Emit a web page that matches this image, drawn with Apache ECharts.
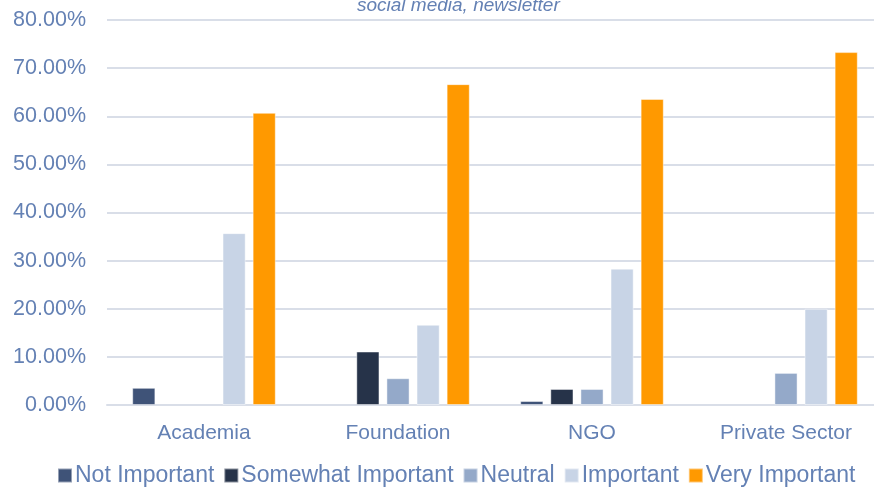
<!doctype html>
<html>
<head>
<meta charset="utf-8">
<title>Importance by sector</title>
<script src="https://cdn.jsdelivr.net/npm/echarts@6/dist/echarts.min.js"></script>
<style>
  html, body { margin: 0; padding: 0; background: #fff; overflow: hidden; }
  /* plot area runs past the right edge of the window in the original */
  #main { width: 883px; height: 487px; }
</style>
</head>
<body>
<div id="main"></div>
<script>
var chart = echarts.init(document.getElementById('main'));

var sectors = ['Academia', 'Foundation', 'NGO', 'Private Sector'];
var notImportant = [3.57, 0, 0.83, 0];
var somewhatImportant = [0, 11.11, 3.33, 0];
var neutral = [0, 5.56, 3.33, 6.67];
var important = [35.71, 16.67, 28.33, 20.0];
var veryImportant = [60.71, 66.67, 63.6, 73.33];

var textColor = '#6481B4';
var font = 'Liberation Sans, Arial, sans-serif';

function bar(name, data, color) {
    return {
        name: name,
        type: 'bar',
        // zero values draw nothing
        data: data.map(function (v) { return v === 0 ? '-' : v; }),
        barGap: '30%',
        barCategoryGap: '26%',
        itemStyle: {
            color: color,
            borderColor: 'rgba(255,255,255,0.45)',
            borderWidth: 1
        }
    };
}

chart.setOption({
    animation: false,
    title: {
        text: 'social media, newsletter',
        left: 352,
        top: -9,
        textStyle: {
            color: textColor,
            fontStyle: 'italic',
            fontWeight: 'normal',
            fontSize: 19,
            fontFamily: font
        }
    },
    legend: {
        bottom: -5,
        left: 52,
        itemWidth: 14,
        itemHeight: 14,
        itemGap: 9,
        icon: 'rect',
        textStyle: { color: textColor, fontSize: 23, fontFamily: font, padding: [0, 0, 0, -2] },
        data: ['Not Important', 'Somewhat Important', 'Neutral', 'Important', 'Very Important']
    },
    grid: { left: 107, right: 0, top: 20, bottom: 82, containLabel: false },
    xAxis: {
        type: 'category',
        data: sectors,
        axisLine: { lineStyle: { color: '#D9DEE8', width: 2 } },
        axisTick: { show: false },
        axisLabel: { color: textColor, fontSize: 21, fontFamily: font, margin: 18 }
    },
    yAxis: {
        type: 'value',
        min: 0,
        max: 80,
        interval: 10,
        axisLine: { show: false },
        axisTick: { show: false },
        splitLine: { lineStyle: { color: '#D9DEE8', width: 2 } },
        axisLabel: {
            color: textColor, fontSize: 21.5, fontFamily: font, margin: 21,
            formatter: function (v) { return v.toFixed(2) + '%'; }
        }
    },
    series: [
        bar('Not Important', notImportant, '#3F5378'),
        bar('Somewhat Important', somewhatImportant, '#263349'),
        bar('Neutral', neutral, '#94A9C9'),
        bar('Important', important, '#C8D4E6'),
        bar('Very Important', veryImportant, '#FF9900')
    ]
});
</script>
</body>
</html>
